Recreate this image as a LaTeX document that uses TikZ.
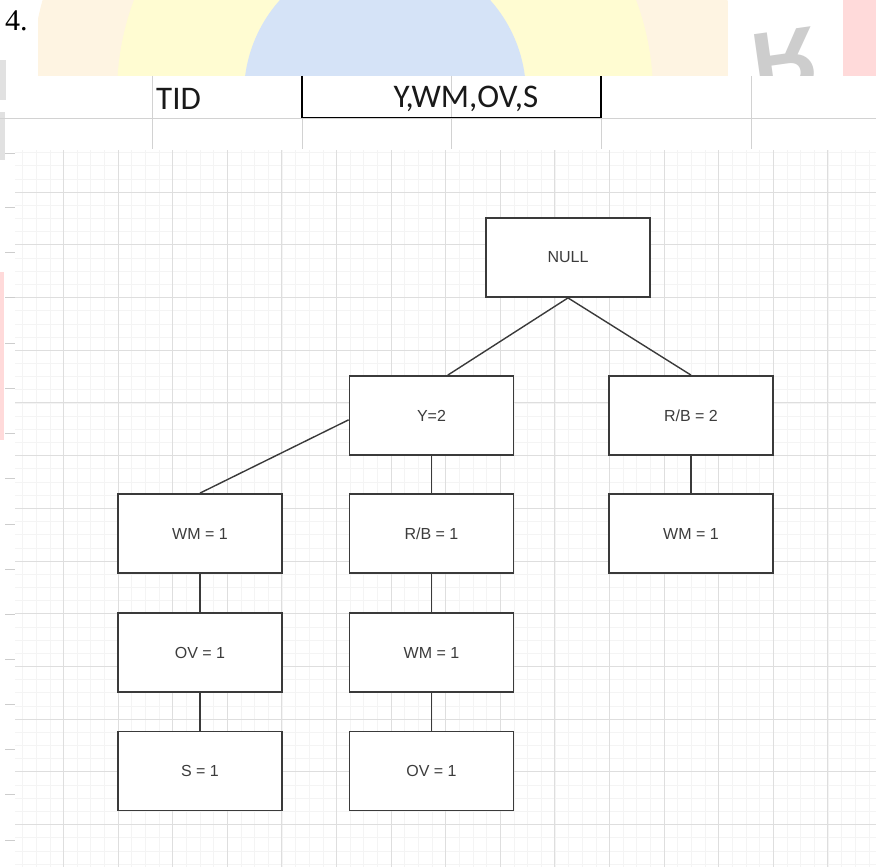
\documentclass[tikz,border=0pt]{standalone}
\usepackage{fontspec}
\setmainfont{Liberation Serif}
\newfontfamily\cellfont{Carlito}
\newfontfamily\boxfont{Liberation Sans}
\usepackage{xcolor}
\definecolor{gridmajor}{HTML}{DEDEDE}
\definecolor{gridminor}{HTML}{F4F4F4}
\definecolor{boxline}{HTML}{3A3A3A}
\definecolor{boxtext}{HTML}{3C3C3C}
\definecolor{cellline}{HTML}{D2D2D2}
\definecolor{markblue}{HTML}{D5E3F7}
\definecolor{markyellow}{HTML}{FFFCD2}
\definecolor{markorange}{HTML}{FEF4E2}
\definecolor{markpink}{HTML}{FFDADA}
\definecolor{markgrey}{HTML}{CDCDCD}
\usepackage{tikz}
\usetikzlibrary{positioning}

\begin{document}
\begin{tikzpicture}[x=1pt,y=-1pt,
  treebox/.style={draw=boxline,line width=1.8pt,fill=white,minimum width=164pt,
    minimum height=79pt,inner sep=0pt,text=boxtext,font=\boxfont\fontsize{16}{18}\selectfont},
  branch/.style={draw=boxline,line width=1.4pt},
  celltext/.style={text=black!90,font=\cellfont\fontsize{33}{35}\selectfont,inner sep=0pt}]
\useasboundingbox (0,0) rectangle (876,867);
% watermark band at the top
\begin{scope}
  \clip (0,0) rectangle (876,76);
  \fill[markorange] (385,94) circle (355);
  \fill[markyellow] (385,94) circle (268);
  \fill[markblue] (385,94) circle (141);
  \fill[white] (0,0) rectangle (38,76);
  \fill[white] (728,0) rectangle (843,76);
  \fill[markpink] (843,0) rectangle (876,76);
  \node[markgrey,font=\boxfont\bfseries\fontsize{90}{90}\selectfont,yscale=-1,rotate=-8]
    (markR) at (785,62) {R};
\end{scope}
\node[anchor=north west,inner sep=0pt,font=\fontsize{30}{32}\selectfont] (num) at (5,11) {4.};
% faint marks on the left edge
\fill[markgrey!60] (0,60) rectangle (6,100);
\fill[markgrey!60] (0,112) rectangle (5,160);
\fill[markpink] (0,272) rectangle (4,440);
\foreach \ty in {153,207,252,297,343,388,433,478,524,569,614,659,704,749,794,840}
  \draw[markgrey,line width=1pt] (5,\ty) -- (15,\ty);
% spreadsheet rows
\draw[cellline,line width=0.8pt] (0,118) -- (876,118);
\foreach \cx in {152,302,451,601,751} \draw[cellline,line width=0.8pt] (\cx,76) -- (\cx,149);
\draw[black,line width=1.3pt] (302,76) -- (302,117.5) -- (601,117.5) -- (601,76);
\node[celltext,anchor=west] (tid) at (156,99) {TID};
\node[celltext] (items) at (466,99) {Y,WM,OV,S};
% drawing grid
\begin{scope}
  \clip (15,150) rectangle (876,867);
  \foreach \gx in {22.45,36.1,...,876} \draw[gridminor,line width=0.5pt] (\gx,150) -- (\gx,867);
  \foreach \gy in {152.5,165.675,...,867} \draw[gridminor,line width=0.5pt] (15,\gy) -- (876,\gy);
  \foreach \gx in {63.4,118,...,876} \draw[gridmajor,line width=0.7pt] (\gx,150) -- (\gx,867);
  \foreach \gy in {192,244.7,...,867} \draw[gridmajor,line width=0.7pt] (15,\gy) -- (876,\gy);
\end{scope}
% tree
\node[treebox] (null) at (568,257.5) {NULL};
\node[treebox] (y2) at (431.5,415.5) {Y=2};
\node[treebox] (rb2) at (691,415.5) {R/B = 2};
\node[treebox] (wmA) at (200,533.5) {WM = 1};
\node[treebox] (rb1) at (431.5,533.5) {R/B = 1};
\node[treebox] (wmC) at (691,533.5) {WM = 1};
\node[treebox] (ovA) at (200,652.5) {OV = 1};
\node[treebox] (wmB) at (431.5,652.5) {WM = 1};
\node[treebox] (s1) at (200,771) {S = 1};
\node[treebox] (ovB) at (431.5,771) {OV = 1};
\draw[branch] (null.south) -- (y2.68.6);
\draw[branch] (null.south) -- (rb2.north);
\draw[branch] (y2.183) -- (wmA.north);
\draw[branch] (y2.south) -- (rb1.north);
\draw[branch] (rb2.south) -- (wmC.north);
\draw[branch] (wmA.south) -- (ovA.north);
\draw[branch] (ovA.south) -- (s1.north);
\draw[branch] (rb1.south) -- (wmB.north);
\draw[branch] (wmB.south) -- (ovB.north);
\end{tikzpicture}
\end{document}
